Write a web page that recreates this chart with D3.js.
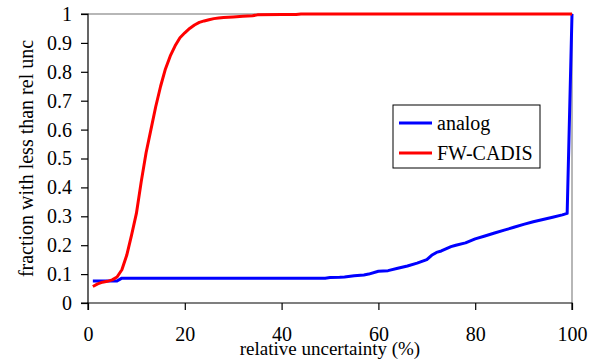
<!DOCTYPE html>
<html lang="en">
<head>
<meta charset="UTF-8">
<script src="https://d3js.org/d3.v7.min.js"></script>
<title>relative uncertainty</title>
</head>
<body style="margin:0; background:#fff">
<div class="canvas"></div>
<script>
// relative uncertainty (%) and fraction of cells below it
const analogX = [1, 6, 7, 49, 50, 52, 53, 55, 57, 58, 60, 62, 64, 66, 68, 70, 71, 72, 73, 75, 76, 78, 80, 82, 84, 86, 88, 90, 92, 94, 96, 98, 99, 100]
const analogY = [0.076, 0.076, 0.086, 0.086, 0.088, 0.089, 0.09, 0.094, 0.097, 0.1, 0.11, 0.112, 0.12, 0.128, 0.138, 0.15, 0.165, 0.175, 0.18, 0.195, 0.2, 0.208, 0.222, 0.232, 0.242, 0.252, 0.262, 0.272, 0.281, 0.289, 0.297, 0.305, 0.31, 1]

const cadisX = [1, 2, 3, 4, 5, 6, 7, 8, 9, 10, 11, 12, 13, 14, 15, 16, 17, 18, 19, 20, 21, 22, 23, 24, 25, 26, 27, 28, 30, 32, 34, 35, 40, 43, 44, 100]
const cadisY = [0.057, 0.066, 0.072, 0.075, 0.08, 0.09, 0.115, 0.165, 0.235, 0.31, 0.42, 0.52, 0.6, 0.68, 0.75, 0.81, 0.855, 0.89, 0.918, 0.935, 0.95, 0.962, 0.971, 0.976, 0.98, 0.984, 0.986, 0.988, 0.99, 0.992, 0.994, 0.997, 0.998, 0.998, 1, 1]

const xTicks = [0, 20, 40, 60, 80, 100]
const yTicks = [0, 0.1, 0.2, 0.3, 0.4, 0.5, 0.6, 0.7, 0.8, 0.9, 1]
const seriesNames = ['analog', 'FW-CADIS']
const seriesColors = ['#0000ff', '#ff0000']

const FONT = '"Liberation Serif"'
const areaWidth = 597
const areaHeight = 362
const [mt, mr, mb, ml] = [14, 25, 59, 88]
const graphWidth = areaWidth - ml - mr
const graphHeight = areaHeight - mt - mb

const svg = d3.select('.canvas')
    .append('svg')
    .attr('width', areaWidth)
    .attr('height', areaHeight)

const graph = svg.append('g')
    .attr('transform', `translate(${ml},${mt})`)

const x = d3.scaleLinear().domain([0, 100]).range([0, graphWidth])
const y = d3.scaleLinear().domain([0, 1]).range([graphHeight, 0])

// grey plot-area border on top and right
graph.append('path')
    .attr('d', `M0,0H${graphWidth}V${graphHeight}`)
    .attr('fill', 'none')
    .attr('stroke', '#a0a0a0')
    .attr('stroke-width', 1.5)

const yAxisG = graph.append('g')
    .call(d3.axisLeft(y).tickValues(yTicks).tickSize(7).tickPadding(9)
        .tickFormat(d => +d.toFixed(1)))
const xAxisG = graph.append('g')
    .attr('transform', `translate(0,${graphHeight})`)
    .call(d3.axisBottom(x).tickValues(xTicks).tickSize(7).tickPadding(17))

graph.selectAll('.domain').attr('stroke', '#000').attr('stroke-width', 1.2)
graph.selectAll('.tick line').attr('stroke', '#000').attr('stroke-width', 1.2)
graph.selectAll('.tick text')
    .style('font-family', FONT)
    .style('font-size', '20px')
    .attr('fill', '#000')
yAxisG.select('.domain').attr('d', `M-7,${graphHeight}H0V0H-7`)
xAxisG.select('.domain').attr('d', `M0,7V0H${graphWidth}V7`)

const line = d3.line()
    .x(d => x(d[0]))
    .y(d => y(d[1]))

const series = [
    d3.zip(analogX, analogY),
    d3.zip(cadisX, cadisY)
]

graph.selectAll('.series')
    .data(series)
    .enter()
    .append('path')
    .attr('class', 'series')
    .attr('d', line)
    .attr('fill', 'none')
    .attr('stroke', (d, i) => seriesColors[i])
    .attr('stroke-width', 3)
    .attr('stroke-linejoin', 'round')

// axis titles
svg.append('text')
    .attr('x', ml + graphWidth / 2)
    .attr('y', 355)
    .attr('text-anchor', 'middle')
    .style('font-family', FONT)
    .style('font-size', '19px')
    .text('relative uncertainty (%)')

svg.append('text')
    .attr('transform', `translate(33,${mt + graphHeight / 2}) rotate(-90)`)
    .attr('text-anchor', 'middle')
    .style('font-family', FONT)
    .style('font-size', '20px')
    .text('fraction with less than rel unc')

// legend
const legend = svg.append('g').attr('transform', 'translate(393,105)')
legend.append('rect')
    .attr('width', 147)
    .attr('height', 63)
    .attr('fill', '#fff')
    .attr('stroke', '#000')
    .attr('stroke-width', 1)
const items = legend.selectAll('.item')
    .data(seriesNames)
    .enter()
    .append('g')
    .attr('transform', (d, i) => `translate(0,${18 + i * 30})`)
items.append('line')
    .attr('x1', 6).attr('x2', 39)
    .attr('stroke', (d, i) => seriesColors[i])
    .attr('stroke-width', 3)
items.append('text')
    .attr('x', 44)
    .attr('dy', '0.35em')
    .style('font-family', FONT)
    .style('font-size', '20px')
    .text(d => d)
</script>
</body>
</html>
